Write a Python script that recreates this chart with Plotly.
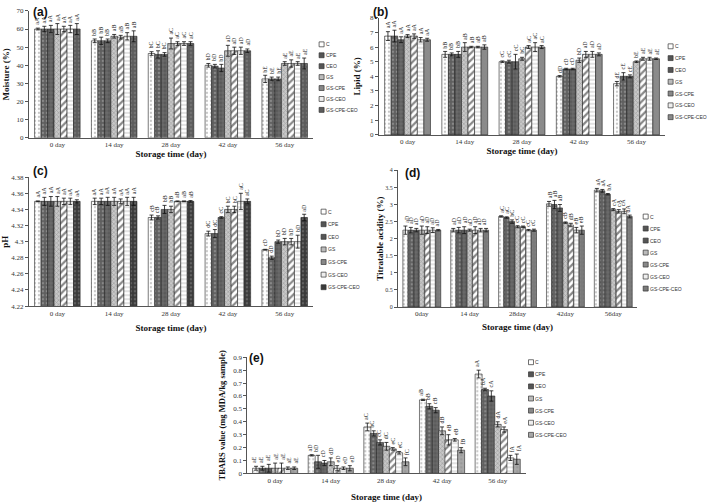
import plotly.graph_objects as go

W, H = 709, 502

series = ["C", "CPE", "CEO", "GS", "GS-CPE", "GS-CEO", "GS-CPE-CEO"]
days_std = ["0 day", "14 day", "28 day", "42 day", "56 day"]
days_d = ["0day", "14 day", "28day", "42day", "56day"]

# ---- (a) Moisture (%) : rows = series, cols = days
moisture = [
    [60, 53.5, 46.5, 40, 32.5],
    [60, 53.5, 46, 39.5, 32.5],
    [60, 53.5, 46, 38.5, 32.5],
    [60, 56, 52, 48, 41],
    [60, 55.5, 52, 48, 41],
    [60, 56, 52, 48, 41],
    [60, 56, 52, 48, 41],
]
moisture_err = [
    [0.5, 1, 1, 1, 2],
    [1.5, 2, 2, 1, 1],
    [2, 1, 1, 2, 1],
    [3, 1, 3, 3, 1],
    [1.5, 1, 1, 2, 2],
    [2, 2, 1, 2, 1],
    [3, 3, 1, 1, 3],
]
moisture_lbl = [
    ["aA", "bB", "bC", "bD", "bE"],
    ["aA", "bB", "bC", "bD", "bE"],
    ["aA", "bB", "bC", "bD", "bE"],
    ["aA", "aB", "aC", "aD", "aE"],
    ["aA", "aB", "aC", "aD", "aE"],
    ["aA", "aB", "aC", "aD", "aE"],
    ["aA", "aB", "aC", "aD", "aE"],
]

# ---- (b) Lipid (%)
lipid = [
    [6.75, 5.5, 5.0, 4.0, 3.5],
    [6.75, 5.5, 5.0, 4.5, 4.0],
    [6.5, 5.5, 5.0, 4.5, 4.0],
    [6.75, 6.0, 5.2, 5.1, 5.0],
    [6.75, 6.0, 6.0, 5.5, 5.2],
    [6.5, 6.0, 6.0, 5.5, 5.2],
    [6.5, 6.0, 6.0, 5.5, 5.2],
]
lipid_err = [
    [0.3, 0.2, 0.05, 0.05, 0.15],
    [0.4, 0.1, 0.1, 0.05, 0.25],
    [0.2, 0.2, 0.5, 0.05, 0.1],
    [0.1, 0.3, 0.1, 0.15, 0.05],
    [0.15, 0.05, 0.1, 0.2, 0.1],
    [0.15, 0.05, 0.3, 0.2, 0.1],
    [0.1, 0.15, 0.1, 0.1, 0.05],
]
lipid_lbl = [
    ["aA", "bB", "cC", "dD", "dE"],
    ["aA", "bB", "cC", "cD", "cE"],
    ["aA", "bB", "cC", "cD", "cE"],
    ["aA", "aB", "bC", "bD", "bE"],
    ["aA", "aB", "aC", "aD", "aE"],
    ["aA", "aB", "aC", "aD", "aE"],
    ["aA", "aB", "aC", "aD", "aE"],
]

# ---- (c) pH
ph = [
    [4.35, 4.35, 4.33, 4.31, 4.29],
    [4.35, 4.35, 4.33, 4.31, 4.28],
    [4.35, 4.35, 4.34, 4.33, 4.30],
    [4.35, 4.35, 4.34, 4.34, 4.30],
    [4.35, 4.35, 4.35, 4.34, 4.30],
    [4.35, 4.35, 4.35, 4.35, 4.30],
    [4.35, 4.35, 4.35, 4.35, 4.33],
]
ph_err = [
    [0.0005, 0.004, 0.003, 0.003, 0.0005],
    [0.005, 0.004, 0.002, 0.005, 0.002],
    [0.006, 0.005, 0.005, 0.001, 0.002],
    [0.006, 0.005, 0.004, 0.004, 0.004],
    [0.004, 0.003, 0.0005, 0.004, 0.004],
    [0.004, 0.005, 0.0005, 0.01, 0.008],
    [0.002, 0.005, 0.001, 0.003, 0.004],
]
ph_lbl = [
    ["aA", "aA", "cB", "dC", "cD"],
    ["aA", "aA", "cB", "dC", "dD"],
    ["aA", "aA", "bB", "cC", "bD"],
    ["aA", "aA", "bB", "bC", "bD"],
    ["aA", "aA", "aB", "bC", "bD"],
    ["aA", "aA", "aB", "aC", "bD"],
    ["aA", "aA", "aB", "aC", "aD"],
]

# ---- (d) Titratable acidity (%)
acidity = [
    [2.25, 2.25, 2.65, 3.02, 3.42],
    [2.25, 2.25, 2.62, 3.0, 3.4],
    [2.25, 2.25, 2.5, 2.9, 3.3],
    [2.25, 2.25, 2.35, 2.47, 2.85],
    [2.25, 2.25, 2.35, 2.4, 2.8],
    [2.25, 2.25, 2.25, 2.25, 2.8],
    [2.25, 2.25, 2.25, 2.25, 2.65],
]
acidity_err = [
    [0.12, 0.05, 0.02, 0.07, 0.05],
    [0.08, 0.08, 0.02, 0.12, 0.04],
    [0.05, 0.1, 0.05, 0.1, 0.02],
    [0.12, 0.03, 0.03, 0.02, 0.03],
    [0.1, 0.1, 0.02, 0.05, 0.05],
    [0.07, 0.05, 0.02, 0.08, 0.07],
    [0.02, 0.05, 0.03, 0.12, 0.04],
]
acidity_lbl = [
    ["aD", "aD", "aC", "aB", "aA"],
    ["aD", "aD", "aC", "aB", "aA"],
    ["aD", "aD", "bC", "aB", "bA"],
    ["aD", "aD", "cC", "cB", "cA"],
    ["aD", "aD", "cC", "dB", "cA"],
    ["aD", "aD", "cC", "eB", "cA"],
    ["aD", "aD", "cC", "eB", "dA"],
]

# ---- (e) TBARS value (mg MDA/kg sample)
tbars = [
    [0.04, 0.14, 0.36, 0.57, 0.77],
    [0.04, 0.09, 0.31, 0.52, 0.65],
    [0.04, 0.08, 0.24, 0.49, 0.60],
    [0.04, 0.09, 0.21, 0.33, 0.38],
    [0.04, 0.04, 0.19, 0.26, 0.34],
    [0.04, 0.04, 0.16, 0.26, 0.12],
    [0.04, 0.04, 0.09, 0.18, 0.11],
]
tbars_err = [
    [0.015, 0.005, 0.03, 0.005, 0.03],
    [0.015, 0.05, 0.02, 0.02, 0.01],
    [0.03, 0.02, 0.02, 0.02, 0.04],
    [0.04, 0.03, 0.03, 0.03, 0.02],
    [0.04, 0.02, 0.01, 0.04, 0.02],
    [0.01, 0.01, 0.01, 0.01, 0.02],
    [0.01, 0.02, 0.03, 0.02, 0.04],
]
tbars_lbl = [
    ["aE", "aD", "aC", "aB", "aA"],
    ["aE", "bD", "bC", "bB", "bA"],
    ["aE", "cD", "cC", "cB", "cA"],
    ["aE", "dD", "dC", "dB", "dA"],
    ["aE", "eD", "eC", "eB", "eA"],
    ["aE", "eD", "eC", "eB", "fA"],
    ["aE", "eD", "fC", "fB", "fA"],
]

# ---------------- styles
styles = [
    dict(shape=".", bgcolor="#ffffff", fgcolor="#8a8a8a", size=4, solidity=0.25),
    dict(shape=".", bgcolor="#5f5f5f", fgcolor="#b0b0b0", size=4, solidity=0.3),
    dict(shape="+", bgcolor="#5a5a5a", fgcolor="#8c8c8c", size=4, solidity=0.35),
    dict(shape="x", bgcolor="#c8c8c8", fgcolor="#7a7a7a", size=3, solidity=0.4),
    dict(shape="/", bgcolor="#ffffff", fgcolor="#111111", size=5, solidity=0.45),
    dict(shape="-", bgcolor="#ffffff", fgcolor="#8a8a8a", size=4, solidity=0.25),
    dict(shape=".", bgcolor="#6e6e6e", fgcolor="#8a8a8a", size=4, solidity=0.3),
]
legend_fill = ["#ffffff", "#555555", "#555555", "#bbbbbb", "#888888", "#eeeeee", "#666666"]
last_color = {"a": "#5c5c5c", "b": "#8a8a8a", "c": "#3a3a3a", "d": "#7a7a7a", "e": "#a8a8a8"}


def px_x(px):
    return px / W


def px_y(py):
    return 1 - py / H


panels = [
    dict(k="a", v=moisture, e=moisture_err, l=moisture_lbl, cats=days_std, yt="Moisture (%)",
         rng=[0, 70], dt=10, box=(27, 312, 7, 136), gap=0.19, leg=(318, 41, 11.1), letter=(29, -1),
         xs=1, ys=5, yfs=9, tfs=7),
    dict(k="b", v=lipid, e=lipid_err, l=lipid_lbl, cats=days_std, yt="Lipid (%)",
         rng=[0, 8], dt=1, box=(378, 665, 14, 133), gap=0.19, leg=(668, 43, 12.0), letter=(370, -1),
         xs=1, ys=7, yfs=9, tfs=7),
    dict(k="c", v=ph, e=ph_err, l=ph_lbl, cats=days_std, yt="pH",
         rng=[4.22, 4.38], dt=0.02, box=(27, 312, 176, 307), gap=0.19, leg=(320, 211, 12.8), letter=(29, 161),
         xs=8, ys=5, yfs=9, tfs=7),
    dict(k="d", v=acidity, e=acidity_err, l=acidity_lbl, cats=days_d, yt="Titratable acidity (%)",
         rng=[0, 4], dt=0.5, box=(397, 637, 169, 308), gap=0.26, leg=(643, 216, 12.2), letter=(402, 163),
         xs=6, ys=0, yfs=9, tfs=6),
    dict(k="e", v=tbars, e=tbars_err, l=tbars_lbl, cats=days_std, yt="TBARS value (mg MDA/kg sample)",
         rng=[0, 0.9], dt=0.1, box=(246, 525, 359, 477), gap=0.12, leg=(528, 364, 12.3), letter=(246, 351),
         xs=10, ys=6, yfs=8.5, tfs=7),
]

fig = go.Figure()
annotations = []
shapes = []
layout_axes = {}

legend_font = dict(family="Liberation Sans", size=5.0, color="#333333")
nser = len(series)

for pi, p in enumerate(panels):
    n = pi + 1
    xa = "x" if n == 1 else f"x{n}"
    ya = "y" if n == 1 else f"y{n}"
    xkey = "xaxis" if n == 1 else f"xaxis{n}"
    ykey = "yaxis" if n == 1 else f"yaxis{n}"
    x0, x1, yt, yb = p["box"]
    w = (1 - p["gap"]) / nser
    for si, name in enumerate(series):
        st = dict(styles[si])
        if si == nser - 1:
            st["bgcolor"] = last_color[p["k"]]
        fig.add_trace(go.Bar(
            x=p["cats"], y=p["v"][si], name=name, xaxis=xa, yaxis=ya,
            offsetgroup=str(si), showlegend=False, width=w,
            marker=dict(color=st["bgcolor"], line=dict(color="#222222", width=0.6),
                        pattern=dict(shape=st["shape"], bgcolor=st["bgcolor"], fgcolor=st["fgcolor"],
                                     size=st["size"], solidity=st["solidity"])),
            error_y=dict(type="data", array=p["e"][si], visible=True, color="#111111",
                         thickness=0.8, width=2),
        ))
        # significance letters above error bars (category index + group offset)
        for di in range(len(p["cats"])):
            xpos = di - (1 - p["gap"]) / 2 + w * (si + 0.5)
            annotations.append(dict(
                x=xpos, y=p["v"][si][di] + p["e"][si][di], xref=xa, yref=ya,
                text=p["l"][si][di], showarrow=False, textangle=-90,
                xanchor="center", yanchor="bottom", yshift=1,
                font=dict(family="Liberation Serif", size=6, color="#222222"),
            ))
    tick_font = dict(family="Liberation Serif", size=p["tfs"], color="#333333")
    title_font = dict(family="Liberation Serif", size=9, color="#111111", weight="bold")
    ytitle_font = dict(family="Liberation Serif", size=p["yfs"], color="#111111", weight="bold")
    layout_axes[xkey] = dict(
        domain=[px_x(x0), px_x(x1)], anchor=ya, type="category",
        showline=True, linecolor="#555555", linewidth=1, ticks="", ticklen=0, showgrid=False,
        tickfont=dict(family="Liberation Serif", size=7, color="#333333"),
        title=dict(text="Storage time (day)", font=title_font, standoff=p["xs"]),
    )
    layout_axes[ykey] = dict(
        domain=[px_y(yb), px_y(yt)], anchor=xa, range=p["rng"], dtick=p["dt"], tick0=0,
        showline=True, linecolor="#555555", linewidth=1, ticks="outside", ticklen=3,
        tickcolor="#555555", showgrid=False, zeroline=False, tickfont=tick_font,
        title=dict(text=p["yt"], font=ytitle_font, standoff=p["ys"]),
    )
    # panel letter
    lx, ly = p["letter"]
    annotations.append(dict(
        x=px_x(lx), y=px_y(ly), xref="paper", yref="paper", text="(" + p["k"] + ")",
        showarrow=False, xanchor="left", yanchor="top",
        font=dict(family="Liberation Sans", size=12, color="#111111", weight="bold"),
    ))
    # legend
    gx, gy0, gstep = p["leg"]
    for si, name in enumerate(series):
        cy = gy0 + si * gstep
        shapes.append(dict(
            type="rect", xref="paper", yref="paper",
            x0=px_x(gx), x1=px_x(gx + 5), y0=px_y(cy + 2.5), y1=px_y(cy - 2.5),
            fillcolor=legend_fill[si] if si != nser - 1 else last_color[p["k"]],
            line=dict(color="#333333", width=0.7),
        ))
        annotations.append(dict(
            x=px_x(gx + 5.5), y=px_y(cy), xref="paper", yref="paper", text=name,
            showarrow=False, xanchor="left", yanchor="middle", borderpad=0,
            font=legend_font,
        ))

fig.update_layout(
    width=W, height=H, margin=dict(l=0, r=0, t=0, b=0),
    paper_bgcolor="white", plot_bgcolor="white",
    barmode="group", bargroupgap=0,
    annotations=annotations, shapes=shapes, showlegend=False,
    **layout_axes,
)

fig.write_html(
    "out.html",
    config={"displayModeBar": False},
    post_script="document.body.style.margin='0';document.body.style.padding='0';",
)
